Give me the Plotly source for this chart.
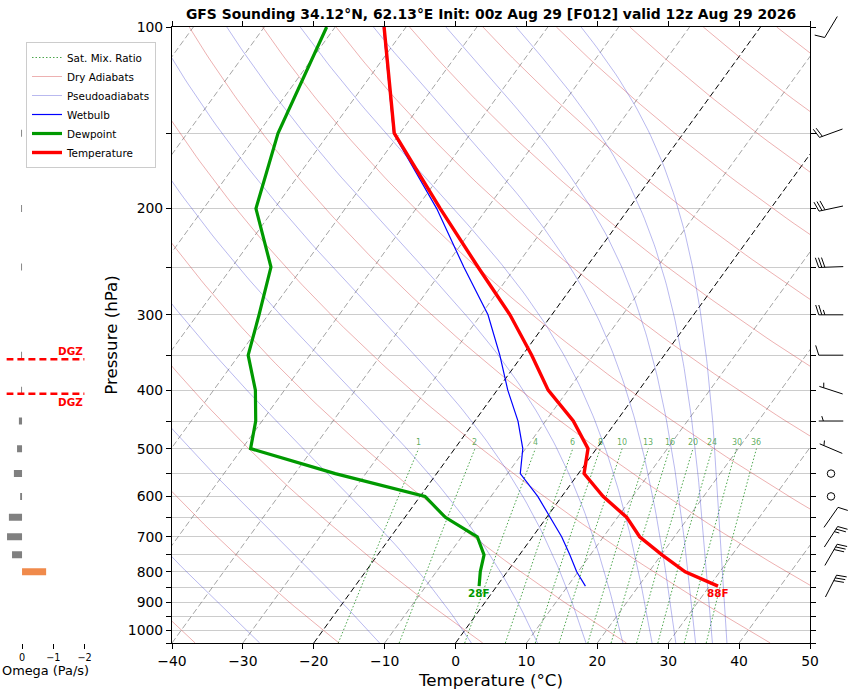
import numpy as np
import plotly.graph_objects as go

# GFS point sounding 34.12N 62.13E, init 00z Aug 29, F012
pres = [100, 150, 200, 250, 300, 350, 400, 450, 500, 550, 600, 650, 700, 750, 800, 845]
temp = [-73.1, -60.8, -46.6, -35.3, -25.9, -18.7, -12.8, -6.1, -1.2, 0.8, 5.8, 11.3, 15.1, 20.1, 25.1, 31.2]
dewp = [-81.2, -77.2, -72.6, -64.5, -61.3, -58.7, -54.1, -50.9, -48.8, -34.3, -19.3, -14.3, -7.8, -5.0, -3.8, -2.5]
wetb = [-73.2, -60.9, -47.1, -37.3, -29.0, -23.2, -18.5, -13.9, -10.4, -8.2, -3.4, 0.5, 4.1, 7.1, 9.8, 12.5]

omega_pres = [100, 150, 200, 250, 300, 350, 400, 450, 500, 550, 600, 650, 700, 750, 800]
omega = [0.0, 0.03, 0.03, 0.03, 0.0, 0.03, 0.03, 0.1, 0.16, 0.26, 0.06, 0.42, 0.48, 0.32, -0.77]

wind_pres = [100, 150, 200, 250, 300, 350, 400, 450, 500, 550, 600, 650, 700, 750, 845]
wind_dir = [211, 250, 258, 268, 270, 270, 288, 270, 293, 0, 0, 35, 33, 30, 27]
wind_kt = [10, 20, 30, 30, 25, 10, 5, 5, 5, 0, 0, 10, 25, 30, 30]

# background reference lines
mix_ratio = [1, 2, 4, 6, 8, 10, 13, 16, 20, 24, 30, 36]      # g/kg
dry_theta = list(range(-40, 260, 20))                        # potential temp, degC
pseudo_thetae = list(range(-30, 171, 20))                    # equiv. potential temp, degC
isotherms = list(range(-100, 51, 10))
dgz_temps = [-18, -12]

TITLE = "GFS Sounding 34.12°N, 62.13°E Init: 00z Aug 29 [F012] valid 12z Aug 29 2026"
FONT = "DejaVu Sans"

# geometry
W, H = 852, 695
BOX_L, BOX_R, BOX_T, BOX_B = 172, 810, 27, 643
P_BOT, P_TOP = 1050.0, 100.0
T_MIN, T_MAX = -40, 50
LOGSPAN = np.log10(P_BOT / P_TOP)
SKEW = np.tan(np.radians(35)) * (T_MAX - T_MIN)
PX_PER_LOG = (BOX_B - BOX_T) / LOGSPAN
OMEGA_RANGE = [0.5, -2.0]

EPS = 0.622


def skew_x(t, p):
    return np.asarray(t, float) + SKEW * np.log10(P_BOT / np.asarray(p, float)) / LOGSPAN


def sat_vp(tc):
    return 6.112 * np.exp(17.67 * tc / (tc + 243.5))


def dewpoint_of_e(e):
    a = np.log(e / 6.112)
    return 243.5 * a / (17.67 - a)


def theta_e(tc, p):
    # Bolton (1980), saturated parcel
    tk = tc + 273.15
    es = sat_vp(tc)
    r = 1000.0 * EPS * es / (p - es)
    return (tk * (1000.0 / p) ** (0.2854 * (1 - 0.28e-3 * r))
            * np.exp((3.376 / tk - 0.00254) * r * (1 + 0.81e-3 * r)))


def pseudo_curve(the_c, p):
    target = the_c + 273.15
    lo = np.full_like(p, -160.0)
    hi = np.minimum(60.0, dewpoint_of_e(0.3 * p))
    for _ in range(60):
        mid = (lo + hi) / 2
        above = theta_e(mid, p) > target
        hi = np.where(above, mid, hi)
        lo = np.where(above, lo, mid)
    return (lo + hi) / 2


def dewpoint_of_w(w_gkg, p):
    w = w_gkg / 1000.0
    return dewpoint_of_e(w * p / (EPS + w))


def joined(curves):
    xs, ys = [], []
    for x, y in curves:
        xs += list(x) + [None]
        ys += list(y) + [None]
    return xs, ys


fig = go.Figure()
p_line = np.geomspace(P_BOT, P_TOP, 120)

# isotherms
iso = [(skew_x([t, t], [P_BOT, P_TOP]), [P_BOT, P_TOP]) for t in isotherms if t not in (0, -20)]
x, y = joined(iso)
fig.add_trace(go.Scatter(x=x, y=y, mode="lines", showlegend=False, hoverinfo="skip",
                         line=dict(color="rgba(120,120,120,0.75)", width=0.9, dash="6px,3px")))
x, y = joined([(skew_x([t, t], [P_BOT, P_TOP]), [P_BOT, P_TOP]) for t in (0, -20)])
fig.add_trace(go.Scatter(x=x, y=y, mode="lines", showlegend=False, hoverinfo="skip",
                         line=dict(color="black", width=1.0, dash="6px,3px")))

# saturation mixing ratio lines
p_mix = np.geomspace(P_BOT, 500, 20)
x, y = joined([(skew_x(dewpoint_of_w(w, p_mix), p_mix), p_mix) for w in mix_ratio])
fig.add_trace(go.Scatter(x=x, y=y, mode="lines", name="Sat. Mix. Ratio", hoverinfo="skip",
                         line=dict(color="rgba(0,128,0,0.7)", width=1, dash="1.5px,2px")))

# dry adiabats
x, y = joined([(skew_x((th + 273.15) * (p_line / 1000.0) ** 0.2857 - 273.15, p_line), p_line)
               for th in dry_theta])
fig.add_trace(go.Scatter(x=x, y=y, mode="lines", name="Dry Adiabats", hoverinfo="skip",
                         line=dict(color="rgba(210,60,60,0.5)", width=0.8)))

# pseudoadiabats
x, y = joined([(skew_x(pseudo_curve(te, p_line), p_line), p_line) for te in pseudo_thetae])
fig.add_trace(go.Scatter(x=x, y=y, mode="lines", name="Pseudoadiabats", hoverinfo="skip",
                         line=dict(color="rgba(60,60,210,0.45)", width=0.8)))

# profiles
fig.add_trace(go.Scatter(x=skew_x(wetb, pres), y=pres, mode="lines", name="Wetbulb",
                         line=dict(color="blue", width=1.2)))
fig.add_trace(go.Scatter(x=skew_x(dewp, pres), y=pres, mode="lines", name="Dewpoint",
                         line=dict(color="#009900", width=3.2)))
fig.add_trace(go.Scatter(x=skew_x(temp, pres), y=pres, mode="lines", name="Temperature",
                         line=dict(color="red", width=3.4)))

# omega panel
for sign, color in ((1, "gray"), (-1, "#f08a4b")):
    segs = [([0, w], [p, p]) for p, w in zip(omega_pres, omega) if (w >= 0) == (sign > 0)]
    x, y = joined(segs)
    fig.add_trace(go.Scatter(x=x, y=y, xaxis="x2", yaxis="y2", mode="lines", showlegend=False,
                             hoverinfo="skip", line=dict(color=color, width=7)))

log_p = np.log10(pres)
dgz_p = [10 ** np.interp(t, temp, log_p) for t in dgz_temps]
x, y = joined([(OMEGA_RANGE, [p, p]) for p in dgz_p])
fig.add_trace(go.Scatter(x=x, y=y, xaxis="x2", yaxis="y2", mode="lines", showlegend=False,
                         hoverinfo="skip", line=dict(color="red", width=2.5, dash="7px,4px")))

# wind barbs (pixel geometry, matplotlib style, pivot in the middle)
L = 24.5
FH, FW, SP = 0.4 * L, 0.25 * L, 0.125 * L
PIVOT_X = 21
bx, by, calm_p = [], [], []
for p, d, s in zip(wind_pres, wind_dir, wind_kt):
    spd = int(5 * round(s / 5))
    if spd == 0:
        calm_p.append(p)
        continue
    th = np.radians(d)
    hx, hy = np.sin(th), -np.cos(th)
    rx, ry = -hy, hx

    def pt(a, b):
        sx = PIVOT_X + a * hx + b * rx
        sy = a * hy + b * ry
        return sx, 10 ** (np.log10(p) + sy / PX_PER_LOG)

    segs = [(-L / 2, 0, L / 2, 0)]
    off = L
    for _ in range(spd // 10):
        a = off - L / 2
        segs.append((a, 0, a + FW / 2, FH))
        off -= SP
    if spd % 10 == 5:
        if off == L:
            off -= 1.5 * SP
        a = off - L / 2
        segs.append((a, 0, a + FW / 4, FH / 2))
    for a0, b0, a1, b1 in segs:
        x0, y0 = pt(a0, b0)
        x1, y1 = pt(a1, b1)
        bx += [x0, x1, None]
        by += [y0, y1, None]

fig.add_trace(go.Scatter(x=bx, y=by, xaxis="x3", yaxis="y3", mode="lines", showlegend=False,
                         hoverinfo="skip", line=dict(color="black", width=1)))
fig.add_trace(go.Scatter(x=[PIVOT_X] * len(calm_p), y=calm_p, xaxis="x3", yaxis="y3",
                         mode="markers", showlegend=False, hoverinfo="skip",
                         marker=dict(symbol="circle-open", size=7.5, color="black",
                                     line=dict(width=1, color="black"))))

# annotations
ann = []
for w in mix_ratio:
    ann.append(dict(x=float(skew_x(dewpoint_of_w(w, 500.0), 500.0)), y=np.log10(500.0),
                    xref="x", yref="y", text=str(w), showarrow=False, yanchor="bottom",
                    font=dict(size=8, color="rgba(0,128,0,0.65)")))
for val, col in ((temp[-1], "red"), (dewp[-1], "#009900")):
    ann.append(dict(x=float(skew_x(val, pres[-1])), y=np.log10(pres[-1]), xref="x", yref="y",
                    text=f"<b>{round(val * 9 / 5 + 32)}F</b>", showarrow=False,
                    yanchor="top", yshift=1, font=dict(size=10.4, color=col)))
for p, anchor in zip(dgz_p, ("bottom", "top")):
    ann.append(dict(x=OMEGA_RANGE[1], y=np.log10(p), xref="x2", yref="y2", text="<b>DGZ</b>",
                    showarrow=False, xanchor="right", yanchor=anchor,
                    font=dict(size=10.4, color="red")))


def minus(v):
    return str(v).replace("-", "\u2212")


p_ticks = list(range(100, 1051, 50))
t_ticks = list(range(T_MIN, T_MAX + 1, 10))
y_rng = [np.log10(P_BOT), np.log10(P_TOP)]
dom_y = [(H - BOX_B) / H, (H - BOX_T) / H]
axis_common = dict(ticks="outside", ticklen=5, tickwidth=1.1, tickcolor="black",
                   showline=True, linecolor="black", linewidth=1.1, mirror="ticks",
                   zeroline=False, tickfont=dict(size=13.9), automargin=False)

fig.update_layout(
    template="none",
    width=W, height=H, margin=dict(l=0, r=0, t=0, b=0, pad=0, autoexpand=False),
    paper_bgcolor="white", plot_bgcolor="white",
    font=dict(family=FONT, color="black"),
    title=dict(text=f"<b>{TITLE}</b>", x=(BOX_L + BOX_R) / 2 / W, xanchor="center",
               y=1 - 14 / H, yanchor="middle", font=dict(size=13.9)),
    xaxis=dict(domain=[BOX_L / W, BOX_R / W], anchor="y", range=[T_MIN, T_MAX],
               tickvals=t_ticks, ticktext=[minus(v) for v in t_ticks], showgrid=False,
               title=dict(text="Temperature (°C)", font=dict(size=16.7), standoff=6),
               **axis_common),
    yaxis=dict(domain=dom_y, anchor="x", type="log", range=y_rng, tickvals=p_ticks,
               ticktext=[str(p) if p % 100 == 0 and p <= 1000 else "" for p in p_ticks],
               showgrid=True, gridcolor="#cccccc", gridwidth=1,
               title=dict(text="Pressure (hPa)", font=dict(size=16.7), standoff=5),
               **axis_common),
    xaxis2=dict(domain=[6.4 / W, 84.6 / W], anchor="y2", range=OMEGA_RANGE,
                tickvals=[0, -1, -2], ticktext=["0", "\u22121", "\u22122"], ticks="outside",
                ticklen=5, tickwidth=1, tickcolor="black", showline=False, showgrid=False,
                zeroline=False, tickfont=dict(size=9.7), automargin=False,
                title=dict(text="Omega (Pa/s)", font=dict(size=12.9), standoff=0)),
    yaxis2=dict(domain=dom_y, anchor="x2", type="log", range=y_rng, visible=False,
                automargin=False),
    xaxis3=dict(domain=[BOX_R / W, 1], anchor="y3", range=[0, W - BOX_R], visible=False,
                automargin=False),
    yaxis3=dict(domain=[0, 1], anchor="x3", type="log", visible=False, automargin=False,
                range=[np.log10(P_BOT) + (H - BOX_B) / PX_PER_LOG,
                       np.log10(P_TOP) - BOX_T / PX_PER_LOG]),
    legend=dict(x=26 / W, y=1 - 42 / H, xanchor="left", yanchor="top",
                bgcolor="rgba(255,255,255,0.8)", bordercolor="#cccccc", borderwidth=1,
                font=dict(size=10.4), itemwidth=30),
    annotations=ann,
)

# the page's default body margin would shift the figure by 8px
fig.write_html("out.html", config={"displayModeBar": False},
               post_script="document.body.style.margin='0px';")
